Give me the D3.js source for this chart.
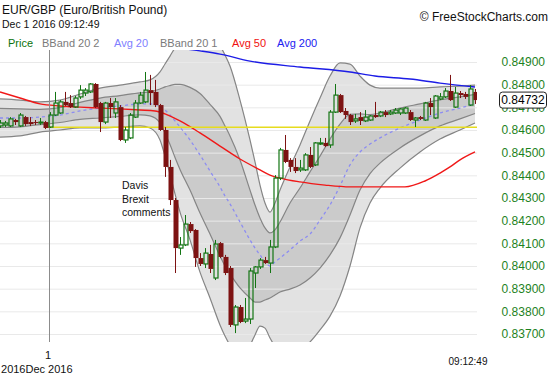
<!DOCTYPE html>
<html>
<head>
<meta charset="utf-8">
<script src="https://cdn.jsdelivr.net/npm/d3@7"></script>
<style>
  body { margin: 0; background: #fff; }
  text { font-family: "Liberation Sans", Arial, sans-serif; }
</style>
</head>
<body>
<script>
// EUR/GBP 5-min candles (index 0 = first visible candle)
var opens = [0.84618,0.84622,0.84618,0.84644,0.84618,0.84657,0.84635,0.84635,0.84631,0.84635,
  0.84613,0.84666,0.84675,0.84724,0.84719,0.84701,0.84746,0.84763,0.84768,0.84803,
  0.84719,0.84635,0.84719,0.84675,0.84701,0.84556,0.84565,0.84657,0.84719,0.84724,
  0.84776,0.84768,0.84710,0.84600,0.84437,0.84291,0.84079,0.84093,0.84185,0.84159,
  0.84035,0.84009,0.84053,0.83947,0.84101,0.84040,0.83991,0.83740,0.83819,0.83757,
  0.83766,0.83969,0.83996,0.84026,0.84013,0.84084,0.84388,0.84512,0.84468,0.84437,
  0.84424,0.84424,0.84490,0.84446,0.84538,0.84543,0.84534,0.84679,0.84754,0.84684,
  0.84666,0.84640,0.84657,0.84640,0.84644,0.84666,0.84662,0.84679,0.84671,0.84675,
  0.84675,0.84675,0.84679,0.84644,0.84657,0.84644,0.84719,0.84653,0.84737,0.84746,
  0.84772,0.84701,0.84763,0.84759,0.84710,0.84768];
var highs = [0.84644,0.84640,0.84657,0.84649,0.84675,0.84662,0.84657,0.84644,0.84653,0.84640,
  0.84679,0.84768,0.84732,0.84768,0.84754,0.84750,0.84798,0.84785,0.84807,0.84807,
  0.84724,0.84724,0.84741,0.84741,0.84710,0.84613,0.84675,0.84732,0.84768,0.84856,
  0.84843,0.84821,0.84715,0.84613,0.84468,0.84300,0.84128,0.84225,0.84194,0.84163,
  0.84057,0.84079,0.84093,0.84115,0.84106,0.84049,0.84000,0.83828,0.83828,0.83859,
  0.83991,0.84000,0.84035,0.84040,0.84115,0.84401,0.84521,0.84578,0.84476,0.84476,
  0.84468,0.84498,0.84525,0.84547,0.84565,0.84565,0.84688,0.84803,0.84759,0.84697,
  0.84671,0.84671,0.84679,0.84688,0.84666,0.84724,0.84684,0.84688,0.84688,0.84697,
  0.84697,0.84701,0.84688,0.84657,0.84662,0.84724,0.84741,0.84754,0.84763,0.84785,
  0.84843,0.84790,0.84772,0.84768,0.84798,0.84781];
var lows = [0.84609,0.84613,0.84613,0.84622,0.84613,0.84618,0.84618,0.84622,0.84622,0.84604,
  0.84609,0.84662,0.84671,0.84706,0.84697,0.84697,0.84737,0.84750,0.84763,0.84697,
  0.84591,0.84626,0.84653,0.84653,0.84551,0.84543,0.84560,0.84653,0.84715,0.84719,
  0.84710,0.84701,0.84596,0.84393,0.84269,0.83969,0.84049,0.84088,0.84146,0.83996,
  0.84000,0.83991,0.83969,0.83938,0.84035,0.83960,0.83731,0.83704,0.83748,0.83748,
  0.83744,0.83903,0.83987,0.84009,0.83969,0.84079,0.84379,0.84454,0.84415,0.84410,
  0.84415,0.84419,0.84432,0.84441,0.84534,0.84525,0.84521,0.84675,0.84675,0.84649,
  0.84622,0.84631,0.84622,0.84635,0.84640,0.84653,0.84657,0.84657,0.84666,0.84671,
  0.84666,0.84671,0.84640,0.84613,0.84644,0.84640,0.84666,0.84649,0.84732,0.84741,
  0.84728,0.84697,0.84741,0.84737,0.84706,0.84715];
var closes = [0.84631,0.84631,0.84649,0.84635,0.84666,0.84626,0.84626,0.84631,0.84635,0.84609,
  0.84666,0.84719,0.84724,0.84710,0.84701,0.84741,0.84776,0.84776,0.84803,0.84701,
  0.84635,0.84719,0.84701,0.84724,0.84556,0.84600,0.84666,0.84719,0.84754,0.84776,
  0.84763,0.84710,0.84600,0.84437,0.84291,0.84079,0.84093,0.84185,0.84154,0.84035,
  0.84009,0.84057,0.83987,0.84097,0.84040,0.83969,0.83740,0.83819,0.83753,0.83766,
  0.83978,0.83996,0.84026,0.84013,0.84084,0.84388,0.84512,0.84459,0.84437,0.84419,
  0.84432,0.84490,0.84437,0.84543,0.84543,0.84529,0.84679,0.84754,0.84679,0.84666,
  0.84635,0.84649,0.84640,0.84657,0.84662,0.84657,0.84679,0.84666,0.84679,0.84688,
  0.84693,0.84697,0.84644,0.84653,0.84649,0.84719,0.84701,0.84750,0.84746,0.84772,
  0.84732,0.84763,0.84754,0.84746,0.84781,0.84732];

// Bollinger bands (20, 2 and 20, 1) sampled at these candle indices
var bandIdx = [0,4,8,12,16,20,24,28,30,32,33,34,35,36,38,40,42,44,45,46,48,50,51,52,53,54,55,56,58,60,62,64,66,68,70,72,74,76,80,84,88,92,95];
var bandMid = [0.84653,0.84653,0.84657,0.84666,0.84684,0.84697,0.84706,0.84715,0.84715,0.84706,0.84688,0.84666,0.84640,0.84613,0.84556,0.84490,0.84419,0.84349,0.84309,0.84274,0.84194,0.84115,0.84079,0.84049,0.84018,0.84000,0.84018,0.84035,0.84071,0.84110,0.84141,0.84203,0.84269,0.84353,0.84446,0.84503,0.84538,0.84565,0.84609,0.84644,0.84675,0.84697,0.84715];
var bandUp2 = [0.84737,0.84732,0.84724,0.84732,0.84759,0.84785,0.84798,0.84812,0.84821,0.84856,0.84891,0.84926,0.84962,0.84988,0.85019,0.85032,0.85006,0.84971,0.84931,0.84882,0.84732,0.84556,0.84459,0.84357,0.84278,0.84238,0.84278,0.84335,0.84437,0.84534,0.84640,0.84741,0.84838,0.84896,0.84891,0.84838,0.84798,0.84785,0.84785,0.84785,0.84790,0.84794,0.84798];
var bandUp1 = [0.84695,0.84693,0.84691,0.84699,0.84722,0.84741,0.84752,0.84764,0.84768,0.84781,0.84790,0.84796,0.84801,0.84801,0.84788,0.84761,0.84713,0.84660,0.84618,0.84574,0.84468,0.84335,0.84269,0.84212,0.84168,0.84146,0.84159,0.84194,0.84278,0.84344,0.84415,0.84485,0.84560,0.84626,0.84669,0.84671,0.84668,0.84675,0.84697,0.84715,0.84733,0.84746,0.84757];
var bandLo1 = [0.84611,0.84614,0.84624,0.84633,0.84647,0.84653,0.84660,0.84667,0.84662,0.84631,0.84587,0.84536,0.84479,0.84426,0.84335,0.84234,0.84141,0.84044,0.84000,0.83965,0.83903,0.83859,0.83841,0.83841,0.83850,0.83859,0.83872,0.83885,0.83898,0.83916,0.83947,0.83991,0.84049,0.84124,0.84225,0.84335,0.84408,0.84454,0.84521,0.84574,0.84618,0.84649,0.84673];
var bandLo2 = [0.84569,0.84574,0.84591,0.84600,0.84609,0.84609,0.84613,0.84618,0.84609,0.84556,0.84485,0.84406,0.84318,0.84238,0.84115,0.83973,0.83859,0.83740,0.83691,0.83651,0.83620,0.83651,0.83696,0.83735,0.83726,0.83682,0.83647,0.83629,0.83620,0.83629,0.83665,0.83718,0.83779,0.83868,0.84000,0.84168,0.84278,0.84344,0.84432,0.84503,0.84560,0.84600,0.84631];

// moving averages
var ma50Idx = [0,4,8,12,16,20,24,28,31,33,36,40,44,48,52,54,56,60,65,70,76,81,85,88,90,92,95];
var ma50 = [0.84768,0.84741,0.84715,0.84706,0.84701,0.84697,0.84693,0.84688,0.84684,0.84671,0.84640,0.84587,0.84529,0.84472,0.84424,0.84401,0.84388,0.84371,0.84357,0.84349,0.84349,0.84349,0.84375,0.84410,0.84437,0.84468,0.84503];
var ma200Idx = [0,20,32,40,44,50,60,70,75,82,88,95];
var ma200 = [0.85041,0.84997,0.84971,0.84949,0.84935,0.84904,0.84878,0.84856,0.84838,0.84825,0.84807,0.84790];

// horizontal support line
var supportLevel = 0.84612, supportFrom = 9;

var yTicks = [0.837,0.838,0.839,0.840,0.841,0.842,0.843,0.844,0.845,0.846,0.847,0.848,0.849];

var W = 550, H = 375;
var plot = {left: 0, right: 477, top: 50, bottom: 342};

var svg = d3.select("body").append("svg")
  .attr("width", W)
  .attr("height", H);

svg.append("rect").attr("width", W).attr("height", H).attr("fill", "#fff");

var x = d3.scaleLinear().domain([0, 95]).range([0, 475]);
var y = d3.scaleLinear().domain([0.837, 0.849]).range([334, 62]);

svg.append("defs").append("clipPath").attr("id", "plotclip")
  .append("rect")
  .attr("x", plot.left).attr("y", plot.top)
  .attr("width", plot.right - plot.left)
  .attr("height", plot.bottom - plot.top);

var chart = svg.append("g").attr("clip-path", "url(#plotclip)");

var bands = bandIdx.map(function(d, i) {
  return {i: d, mid: bandMid[i], up2: bandUp2[i], lo2: bandLo2[i], up1: bandUp1[i], lo1: bandLo1[i]};
});

function bandArea(lo, hi) {
  return d3.area()
    .x(function(d) { return x(d.i); })
    .y0(function(d) { return y(d[lo]); })
    .y1(function(d) { return y(d[hi]); })
    .curve(d3.curveMonotoneX);
}
function bandLine(key) {
  return d3.line()
    .x(function(d) { return x(d.i); })
    .y(function(d) { return y(d[key]); })
    .curve(d3.curveMonotoneX);
}

//outer and inner bands
chart.append("path").datum(bands).attr("d", bandArea("lo2", "up2")).attr("fill", "#e2e2e2");
chart.append("path").datum(bands).attr("d", bandArea("lo1", "up1")).attr("fill", "#cbcbcb");

//grid
chart.append("g")
  .attr("class", "grid")
  .call(d3.axisLeft(y).tickValues(yTicks).tickSize(-plot.right).tickFormat(""))
  .call(function(g) { g.select(".domain").remove(); })
  .call(function(g) { g.selectAll("line").attr("stroke", "#e9e9e9"); });

["up2", "lo2", "up1", "lo1"].forEach(function(k) {
  chart.append("path").datum(bands)
    .attr("d", bandLine(k))
    .attr("fill", "none")
    .attr("stroke", "#858585")
    .attr("stroke-width", 1.2);
});

chart.append("path").datum(bands)
  .attr("d", bandLine("mid"))
  .attr("fill", "none")
  .attr("stroke", "#8c8cf2")
  .attr("stroke-width", 1.3)
  .attr("stroke-dasharray", "3,3");

var maLine = d3.line()
  .x(function(d) { return x(d[0]); })
  .y(function(d) { return y(d[1]); })
  .curve(d3.curveMonotoneX);

chart.append("path")
  .datum(ma50Idx.map(function(d, i) { return [d, ma50[i]]; }))
  .attr("d", maLine)
  .attr("fill", "none")
  .attr("stroke", "#f01818")
  .attr("stroke-width", 1.4);

chart.append("path")
  .datum(ma200Idx.map(function(d, i) { return [d, ma200[i]]; }))
  .attr("d", maLine)
  .attr("fill", "none")
  .attr("stroke", "#1c1ce6")
  .attr("stroke-width", 1.4);

chart.append("line")
  .attr("x1", x(supportFrom)).attr("x2", plot.right)
  .attr("y1", y(supportLevel)).attr("y2", y(supportLevel))
  .attr("stroke", "#e6dc1e")
  .attr("stroke-width", 1.4);

//day separator
chart.append("line")
  .attr("x1", 49.5).attr("x2", 49.5)
  .attr("y1", plot.top).attr("y2", plot.bottom)
  .attr("stroke", "#8c8c8c");

//candles
var candles = chart.selectAll(".candle")
  .data(opens.map(function(o, i) {
    return {i: i, o: o, h: highs[i], l: lows[i], c: closes[i]};
  }))
  .enter().append("g")
  .attr("class", "candle");

var red = "#7d1212", green = "#137513";

candles.append("line")
  .attr("x1", function(d) { return Math.round(x(d.i)) + 0.5; })
  .attr("x2", function(d) { return Math.round(x(d.i)) + 0.5; })
  .attr("y1", function(d) { return y(d.h); })
  .attr("y2", function(d) { return y(Math.max(d.o, d.c)); })
  .attr("stroke", function(d) { return d.c >= d.o ? green : red; });

candles.append("line")
  .attr("x1", function(d) { return Math.round(x(d.i)) + 0.5; })
  .attr("x2", function(d) { return Math.round(x(d.i)) + 0.5; })
  .attr("y1", function(d) { return y(Math.min(d.o, d.c)); })
  .attr("y2", function(d) { return y(d.l); })
  .attr("stroke", function(d) { return d.c >= d.o ? green : red; });

candles.append("rect")
  .attr("x", function(d) {
    return d.c >= d.o ? Math.round(x(d.i)) - 1 : Math.round(x(d.i)) - 1.5;
  })
  .attr("width", function(d) { return d.c >= d.o ? 4 : 5; })
  .attr("y", function(d) { return y(Math.max(d.o, d.c)); })
  .attr("height", function(d) { return Math.max(1, Math.abs(y(d.o) - y(d.c))); })
  .attr("fill", function(d) { return d.c >= d.o ? "none" : red; })
  .attr("stroke", function(d) { return d.c >= d.o ? green : "none"; })
  .attr("stroke-width", 1.2);

//price axis
svg.append("g")
  .attr("transform", "translate(545,0)")
  .call(d3.axisRight(y).tickValues(yTicks).tickSize(0).tickFormat(d3.format(".5f")))
  .call(function(g) { g.select(".domain").remove(); })
  .call(function(g) {
    g.selectAll("text")
      .attr("x", 0)
      .attr("text-anchor", "end")
      .attr("fill", "#1e821e")
      .style("font-size", "12px")
      .style("font-family", '"Liberation Sans", Arial, sans-serif');
  });

//last price box
var last = closes[closes.length - 1];
svg.append("rect")
  .attr("x", 499.5).attr("y", y(last) - 8)
  .attr("width", 47).attr("height", 16)
  .attr("rx", 3)
  .attr("fill", "#fff")
  .attr("stroke", "#222");
svg.append("text")
  .attr("x", 523).attr("y", y(last) + 4)
  .attr("text-anchor", "middle")
  .style("font-size", "12px")
  .attr("fill", "#000")
  .text(d3.format(".5f")(last));

//titles
svg.append("text").attr("x", 2).attr("y", 14).style("font-size", "12px").attr("fill", "#111")
  .text("EUR/GBP (Euro/British Pound)");
svg.append("text").attr("x", 2).attr("y", 28).style("font-size", "10.5px").attr("fill", "#111")
  .text("Dec 1 2016 09:12:49");
svg.append("text").attr("x", 548).attr("y", 21).attr("text-anchor", "end")
  .style("font-size", "12px").attr("fill", "#111")
  .text("\u00a9 FreeStockCharts.com");

var legend = [
  ["Price", "#0b730b", 8],
  ["BBand 20 2", "#7a7a7a", 42],
  ["Avg 20", "#8080ff", 114],
  ["BBand 20 1", "#7a7a7a", 160],
  ["Avg 50", "#f01010", 232],
  ["Avg 200", "#2020f0", 277]
];
svg.selectAll(".legend")
  .data(legend)
  .enter().append("text")
  .attr("class", "legend")
  .attr("x", function(d) { return d[2]; })
  .attr("y", 47)
  .style("font-size", "11px")
  .attr("fill", function(d) { return d[1]; })
  .text(function(d) { return d[0]; });

//annotation
var note = svg.append("text").attr("x", 122).attr("y", 189)
  .style("font-size", "10.5px").attr("fill", "#111");
["Davis", "Brexit", "comments"].forEach(function(t, i) {
  note.append("tspan").attr("x", 122).attr("dy", i ? 13.5 : 0).text(t);
});

//time axis
svg.append("text").attr("x", 48).attr("y", 359).attr("text-anchor", "middle")
  .style("font-size", "11px").attr("fill", "#111").text("1");
svg.append("text").attr("x", 25.5).attr("y", 373).attr("text-anchor", "start")
  .style("font-size", "11px").attr("fill", "#111").text("Dec 2016");
svg.append("text").attr("x", 25.5).attr("y", 373).attr("text-anchor", "end")
  .style("font-size", "11px").attr("fill", "#111").text("2016");
svg.append("text").attr("x", 468).attr("y", 365).attr("text-anchor", "middle")
  .style("font-size", "10px").attr("fill", "#111").text("09:12:49");
</script>
</body>
</html>
